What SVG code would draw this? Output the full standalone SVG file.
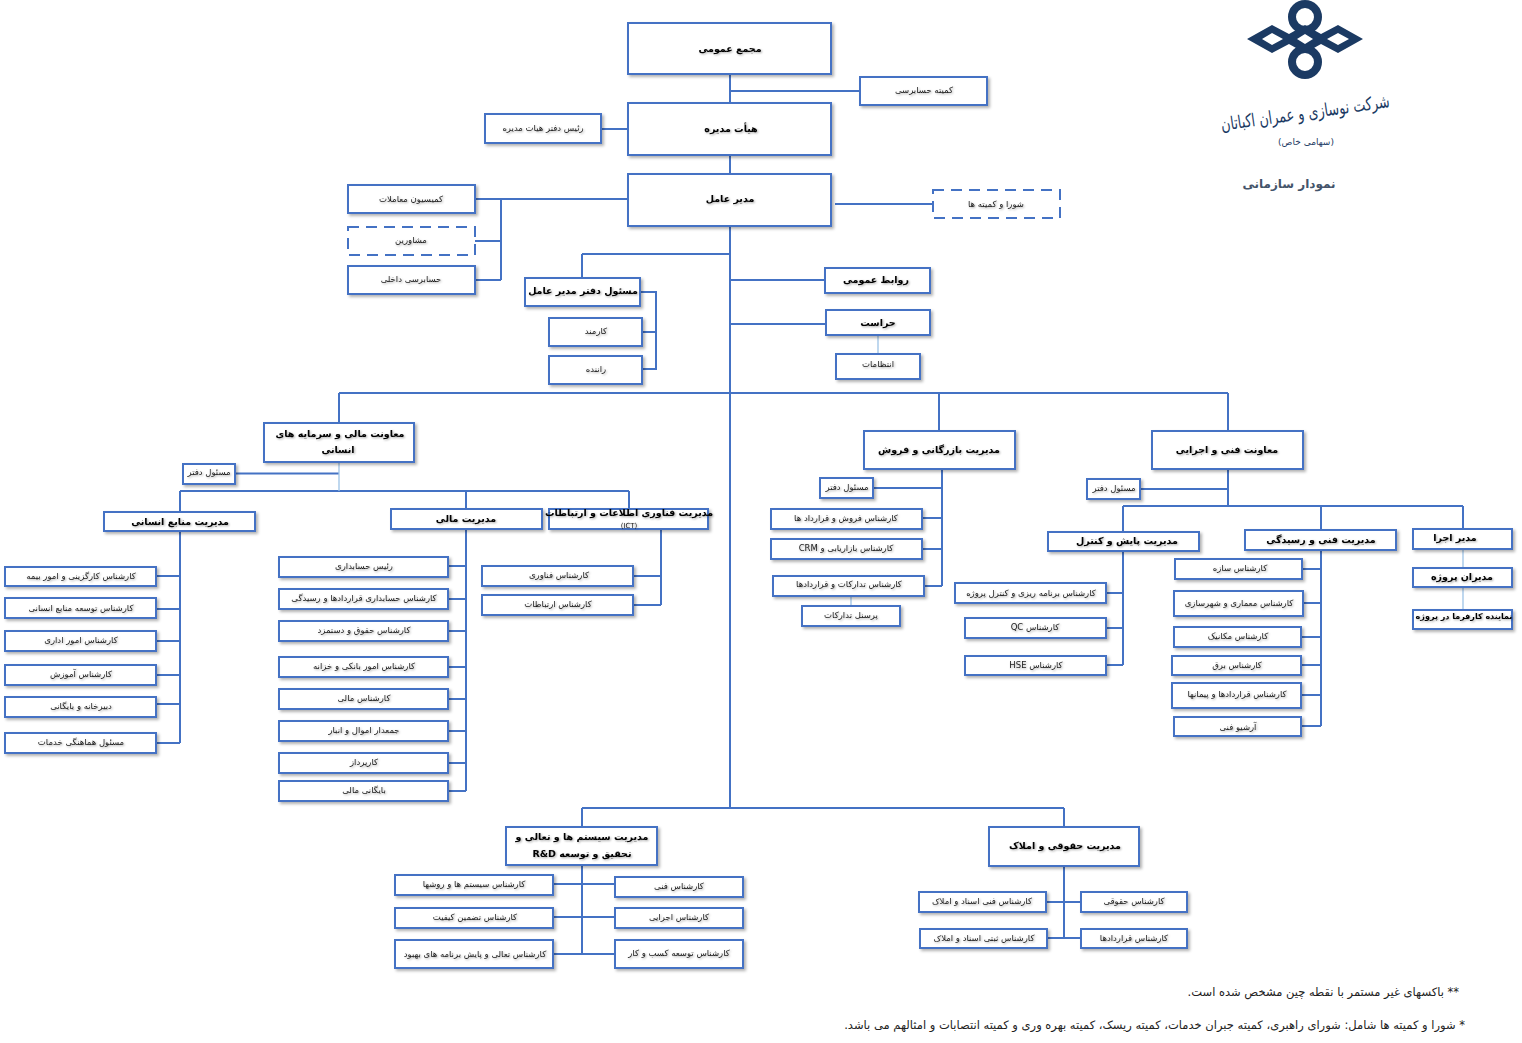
<svg xmlns="http://www.w3.org/2000/svg" width="1522" height="1043" viewBox="0 0 1522 1043">
<style>
text{font-family:"DejaVu Sans","Noto Sans",sans-serif;direction:rtl;text-anchor:middle;fill:#1c1c1c}
.t{font-size:8.5px;filter:url(#ts)}
.b{font-size:9.5px;font-weight:bold;fill:#000;filter:url(#ts)}
.n{fill:#fff;stroke:#4472c4;stroke-width:2;filter:url(#ds)}
.d{stroke-dasharray:11 7;filter:none}
.c{fill:none;stroke:#4472c4;stroke-width:2}
.l{fill:none;stroke:#9dc3e6;stroke-width:1.3}
.f{font-size:11.5px;text-anchor:start;fill:#222}
</style>
<defs>
<filter id="ds" x="-10%" y="-20%" width="125%" height="150%"><feDropShadow dx="2" dy="2" stdDeviation="1.4" flood-color="#000" flood-opacity="0.3"/></filter>
<filter id="ts" x="-10%" y="-30%" width="120%" height="170%"><feDropShadow dx="1" dy="1" stdDeviation="0.8" flood-color="#000" flood-opacity="0.35"/></filter>
</defs>
<rect width="1522" height="1043" fill="#fff"/>
<g id="connectors">
<path class="c" d="M730 74V103M730 91H860M730 155V174M601 129H628M835 204H933M475 199H628M501 199V280M475 241H501M475 280H501"/>
<path class="c" d="M730 226V808M582 254H730M582 254V278M640 292H656V369H642M642 332H656M730 280H825M730 324H826"/>
<path class="c" d="M339 393H1228M339 393V423M939 393V431M1228 393V506M235 473.500H339M180 491H629M180 491V512M466 491V509M629 491V509"/>
<path class="c" d="M180 532V743M156 576H180M156 609H180M156 641H180M156 675H180M156 704H180M156 743H180"/>
<path class="c" d="M466 529V791M449 566H466M449 599H466M449 631H466M449 667H466M449 699H466M449 731H466M449 763H466M449 791H466"/>
<path class="c" d="M661 529V605M633 576H661M633 605H661"/>
<path class="c" d="M942 469V586M873 488H942M922 518H942M922 549H942M924 586H942"/>
<path class="c" d="M1140 489H1228M1123 506H1463M1123 506V532M1321 506V530M1463 506V529M1123 551V665M1107 593H1123M1107 628H1123M1107 665H1123"/>
<path class="c" d="M1321 550V726M1303 569H1321M1303 603H1321M1301 637H1321M1301 665H1321M1301 695H1321M1301 726H1321"/>
<path class="c" d="M582 808H1064M582 808V827M582 865V954M553 884H615M553 917H615M553 954H615"/>
<path class="c" d="M1064 808V827M1064 866V938M1047 902H1081M1047 938H1081"/>
<path class="l" d="M878 335V354M339 462V491M851 596V606M1463 549V568M1463 587V610"/>
</g>
<g id="logo">
<g fill="none" stroke="#1b3a63">
<circle cx="1305" cy="17" r="13" stroke-width="8"/>
<circle cx="1305" cy="62" r="13" stroke-width="8"/>
</g>
<path fill="#1b3a63" fill-rule="evenodd" d="M1247 39L1272 25L1289 34L1305 25L1321 34L1338 25L1363 39L1338 53L1321 44L1305 53L1289 44L1272 53ZM1262 39L1272 45L1283 39L1272 33ZM1297 39L1305 44L1313 39L1305 34ZM1327 39L1338 45L1349 39L1338 33Z"/>
<text x="1305" y="119" transform="rotate(-8 1305 112)" style="font-size:18px;fill:#1b3a63" textLength="170" lengthAdjust="spacingAndGlyphs">شرکت نوسازی و عمران اکباتان</text>
<text x="1306" y="145" style="font-size:9px;fill:#1b3a63">(سهامی خاص)</text>
<text x="1289" y="188" style="font-size:12px;font-weight:bold;fill:#44546a">نمودار سازمانی</text>
</g>
<g id="n1"><rect class="n" x="628" y="23" width="203" height="51" stroke-width="2.500"/><text class="b" x="730" y="52">مجمع عمومی</text></g>
<g id="n2"><rect class="n" x="860" y="77" width="127" height="28"/><text class="t" x="924" y="93">کمیته حسابرسی</text></g>
<g id="n3"><rect class="n" x="628" y="103" width="203" height="52"/><text class="b" x="731" y="132">هیأت مدیره</text></g>
<g id="n4"><rect class="n" x="485" y="114" width="116" height="29"/><text class="t" x="543" y="131">رئیس دفتر هیات مدیره</text></g>
<g id="n5"><rect class="n" x="628" y="174" width="203" height="52"/><text class="b" x="730" y="202">مدیر عامل</text></g>
<g id="n6"><rect class="n d" x="933" y="190" width="127" height="28"/><text class="t" x="996" y="207">شورا و کمیته ها</text></g>
<g id="n7"><rect class="n" x="348" y="185" width="127" height="28"/><text class="t" x="411" y="202">کمیسیون معاملات</text></g>
<g id="n8"><rect class="n d" x="348" y="227" width="127" height="28"/><text class="t" x="411" y="243">مشاورین</text></g>
<g id="n9"><rect class="n" x="348" y="266" width="127" height="28"/><text class="t" x="411" y="282">حسابرسی داخلی</text></g>
<g id="n10"><rect class="n" x="525" y="278" width="115" height="28"/><text class="b" x="583" y="294">مسئول دفتر مدیر عامل</text></g>
<g id="n11"><rect class="n" x="549" y="318" width="93" height="28"/><text class="t" x="596" y="334">کارمند</text></g>
<g id="n12"><rect class="n" x="549" y="356" width="93" height="28"/><text class="t" x="596" y="372">راننده</text></g>
<g id="n13"><rect class="n" x="825" y="268" width="105" height="25"/><text class="b" x="876" y="283">روابط عمومی</text></g>
<g id="n14"><rect class="n" x="826" y="310" width="104" height="25"/><text class="b" x="878" y="326">حراست</text></g>
<g id="n15"><rect class="n" x="836" y="354" width="84" height="25"/><text class="t" x="878" y="367">انتظامات</text></g>
<g id="n16"><rect class="n" x="264" y="423" width="150" height="39"/><text class="b" x="340" y="437">معاونت مالی و سرمایه های</text><text class="b" x="338" y="453">انسانی</text></g>
<g id="n17"><rect class="n" x="183" y="464" width="52" height="20"/><text class="t" x="209" y="475">مسئول دفتر</text></g>
<g id="n18"><rect class="n" x="104" y="512" width="151" height="19"/><text class="b" x="180" y="525">مدیریت منابع انسانی</text></g>
<g id="n19"><rect class="n" x="5" y="567" width="151" height="19"/><text class="t" x="81" y="579">کارشناس کارگزینی و امور بیمه</text></g>
<g id="n20"><rect class="n" x="5" y="598" width="151" height="20"/><text class="t" x="81" y="611">کارشناس توسعه منابع انسانی</text></g>
<g id="n21"><rect class="n" x="5" y="631" width="151" height="20"/><text class="t" x="81" y="643">کارشناس امور اداری</text></g>
<g id="n22"><rect class="n" x="5" y="665" width="151" height="20"/><text class="t" x="81" y="677">کارشناس آموزش</text></g>
<g id="n23"><rect class="n" x="5" y="697" width="151" height="20"/><text class="t" x="81" y="709">دبیرخانه و بایگانی</text></g>
<g id="n24"><rect class="n" x="5" y="733" width="151" height="20"/><text class="t" x="81" y="745">مسئول هماهنگی خدمات</text></g>
<g id="n25"><rect class="n" x="391" y="509" width="151" height="20"/><text class="b" x="466" y="522">مدیریت مالی</text></g>
<g id="n26"><rect class="n" x="549" y="509" width="159" height="20"/><text class="b" x="629" y="516">مدیریت  فناوری اطلاعات و ارتباطات</text><text class="t" x="629" y="528" style="font-size:7px">(ICT)</text></g>
<g id="n27"><rect class="n" x="279" y="557" width="169" height="20"/><text class="t" x="364" y="569">رئیس حسابداری</text></g>
<g id="n28"><rect class="n" x="279" y="589" width="169" height="20"/><text class="t" x="364" y="601">کارشناس حسابداری قراردادها و رسیدگی</text></g>
<g id="n29"><rect class="n" x="279" y="621" width="169" height="20"/><text class="t" x="364" y="633">کارشناس حقوق و دستمزد</text></g>
<g id="n30"><rect class="n" x="279" y="657" width="169" height="20"/><text class="t" x="364" y="669">کارشناس امور بانکی و خزانه</text></g>
<g id="n31"><rect class="n" x="279" y="689" width="169" height="20"/><text class="t" x="364" y="701">کارشناس مالی</text></g>
<g id="n32"><rect class="n" x="279" y="721" width="169" height="20"/><text class="t" x="364" y="733">جمعدار اموال و انبار</text></g>
<g id="n33"><rect class="n" x="279" y="753" width="169" height="20"/><text class="t" x="364" y="765">کارپرداز</text></g>
<g id="n34"><rect class="n" x="279" y="781" width="169" height="20"/><text class="t" x="364" y="793">بایگانی مالی</text></g>
<g id="n35"><rect class="n" x="482" y="566" width="151" height="20"/><text class="t" x="559" y="578">کارشناس فناوری</text></g>
<g id="n36"><rect class="n" x="482" y="595" width="151" height="20"/><text class="t" x="558" y="607">کارشناس ارتباطات</text></g>
<g id="n37"><rect class="n" x="864" y="431" width="151" height="38"/><text class="b" x="939" y="453">مدیریت بازرگانی و فروش</text></g>
<g id="n38"><rect class="n" x="820" y="478" width="53" height="20"/><text class="t" x="847" y="490">مسئول دفتر</text></g>
<g id="n39"><rect class="n" x="771" y="509" width="151" height="20"/><text class="t" x="846" y="521">کارشناس فروش و قرارداد ها</text></g>
<g id="n40"><rect class="n" x="771" y="539" width="151" height="20"/><text class="t" x="846" y="551">کارشناس بازاریابی و CRM</text></g>
<g id="n41"><rect class="n" x="773" y="576" width="151" height="20"/><text class="t" x="849" y="587">کارشناس تدارکات و قراردادها</text></g>
<g id="n42"><rect class="n" x="802" y="606" width="98" height="20"/><text class="t" x="851" y="618">پرسنل تدارکات</text></g>
<g id="n43"><rect class="n" x="1152" y="431" width="151" height="38"/><text class="b" x="1227" y="453">معاونت فنی و اجرایی</text></g>
<g id="n44"><rect class="n" x="1087" y="479" width="53" height="20"/><text class="t" x="1114" y="491">مسئول دفتر</text></g>
<g id="n45"><rect class="n" x="1048" y="532" width="151" height="19"/><text class="b" x="1127" y="544">مدیریت پایش و کنترل</text></g>
<g id="n46"><rect class="n" x="955" y="583" width="151" height="20"/><text class="t" x="1031" y="596">کارشناس  برنامه ریزی و کنترل پروژه</text></g>
<g id="n47"><rect class="n" x="965" y="618" width="141" height="20"/><text class="t" x="1035" y="630">کارشناس QC</text></g>
<g id="n48"><rect class="n" x="965" y="656" width="141" height="19"/><text class="t" x="1036" y="668">کارشناس  HSE</text></g>
<g id="n49"><rect class="n" x="1245" y="530" width="151" height="20"/><text class="b" x="1321" y="543">مدیریت فنی و رسیدگی</text></g>
<g id="n50"><rect class="n" x="1175" y="559" width="127" height="20"/><text class="t" x="1240" y="571">کارشناس سازه</text></g>
<g id="n51"><rect class="n" x="1174" y="591" width="129" height="25"/><text class="t" x="1239" y="606">کارشناس معماری و شهرسازی</text></g>
<g id="n52"><rect class="n" x="1174" y="627" width="127" height="20"/><text class="t" x="1238" y="639">کارشناس مکانیک</text></g>
<g id="n53"><rect class="n" x="1172" y="656" width="129" height="19"/><text class="t" x="1237" y="668">کارشناس برق</text></g>
<g id="n54"><rect class="n" x="1172" y="683" width="129" height="25"/><text class="t" x="1237" y="697">کارشناس قراردادها و پیمانها</text></g>
<g id="n55"><rect class="n" x="1174" y="717" width="127" height="19"/><text class="t" x="1238" y="730">آرشیو فنی</text></g>
<g id="n56"><rect class="n" x="1413" y="529" width="99" height="20"/><text class="b" x="1455" y="541">مدیر اجرا</text></g>
<g id="n57"><rect class="n" x="1413" y="568" width="99" height="19"/><text class="b" x="1462" y="580">مدیران پروژه</text></g>
<g id="n58"><rect class="n" x="1413" y="610" width="99" height="19"/><text class="b" x="1464" y="619" style="font-size:8px">نماینده کارفرما در پروژه</text></g>
<g id="n59"><rect class="n" x="506" y="827" width="151" height="38"/><text class="b" x="582" y="840">مدیریت سیستم ها و تعالی و</text><text class="b" x="582" y="857">تحقیق و توسعه R&amp;D</text></g>
<g id="n60"><rect class="n" x="395" y="875" width="158" height="20"/><text class="t" x="474" y="887">کارشناس سیستم ها و روشها</text></g>
<g id="n61"><rect class="n" x="395" y="908" width="158" height="20"/><text class="t" x="475" y="920">کارشناس تضمین کیفیت</text></g>
<g id="n62"><rect class="n" x="395" y="940" width="158" height="28"/><text class="t" x="475" y="957">کارشناس تعالی و پایش برنامه های بهبود</text></g>
<g id="n63"><rect class="n" x="615" y="877" width="128" height="20"/><text class="t" x="679" y="889">کارشناس فنی</text></g>
<g id="n64"><rect class="n" x="615" y="908" width="128" height="20"/><text class="t" x="679" y="920">کارشناس اجرایی</text></g>
<g id="n65"><rect class="n" x="615" y="940" width="128" height="28"/><text class="t" x="679" y="956">کارشناس توسعه کسب و کار</text></g>
<g id="n66"><rect class="n" x="989" y="827" width="150" height="39"/><text class="b" x="1065" y="849">مدیریت حقوقی و املاک</text></g>
<g id="n67"><rect class="n" x="919" y="892" width="127" height="20"/><text class="t" x="982" y="904">کارشناس فنی اسناد و املاک</text></g>
<g id="n68"><rect class="n" x="920" y="929" width="127" height="19"/><text class="t" x="984" y="941">کارشناس ثبتی اسناد و املاک</text></g>
<g id="n69"><rect class="n" x="1081" y="892" width="106" height="20"/><text class="t" x="1134" y="904">کارشناس حقوقی</text></g>
<g id="n70"><rect class="n" x="1081" y="929" width="106" height="19"/><text class="t" x="1134" y="941">کارشناس قراردادها</text></g>
<g id="notes">
<text class="f" x="1459" y="996">** باکسهای غیر مستمر با نقطه چین مشخص شده است.</text>
<text class="f" x="1465" y="1029">* شورا و کمیته ها شامل: شورای راهبری، کمیته جبران خدمات، کمیته ریسک، کمیته بهره وری و کمیته انتصابات و امثالهم می باشد.</text>
</g>
</svg>
